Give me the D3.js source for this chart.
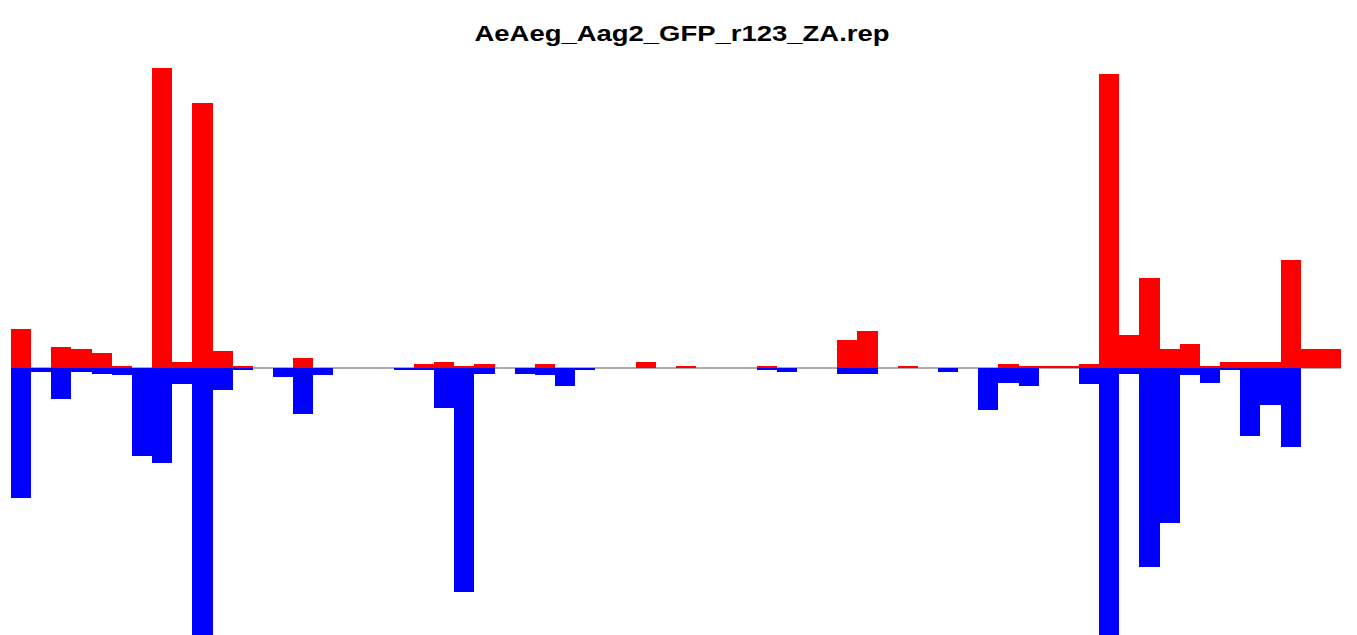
<!DOCTYPE html>
<html>
<head>
<meta charset="utf-8">
<script src="https://cdn.jsdelivr.net/npm/d3@7"></script>
<style>
  html, body { margin: 0; padding: 0; background: #fff; overflow: hidden; }
  svg { display: block; }
</style>
</head>
<body>
<script>
const title = "AeAeg_Aag2_GFP_r123_ZA.rep";
const positions = d3.range(66);
const sense = [39,0,21,19,15,2,0,300,6,265,17,2,0,0,10,0,0,0,0,0,4,6,2,4,0,0,4,0,0,0,0,6,0,2,0,0,0,2,0,0,0,28,37,0,2,0,0,0,0,4,2,2,2,4,294,33,90,19,24,2,6,6,6,108,19,19];
const antisense = [130,4,31,4,6,7,88,95,16,300,22,2,0,9,46,7,0,0,0,2,2,40,224,6,0,6,7,18,2,0,0,0,0,0,0,0,0,2,4,0,0,6,6,0,0,0,4,0,42,15,18,0,0,16,300,6,199,155,7,15,2,68,37,79,0,0];

const W = 1357, H = 635;
const svg = d3.select("body").append("svg").attr("width", W).attr("height", H);

const x = d3.scaleBand().domain(positions).range([11, 1341]).padding(0);
const y = d3.scaleLinear().domain([-300, 300]).range([668, 68]);

svg.append("line")
  .attr("x1", 11).attr("x2", 1341)
  .attr("y1", y(0)).attr("y2", y(0))
  .attr("stroke", "#909090").attr("stroke-width", 1.5);

svg.append("g").attr("shape-rendering", "crispEdges")
  .selectAll("rect").data(positions).join("rect")
  .attr("x", d => x(d)).attr("width", x.bandwidth())
  .attr("y", d => y(sense[d]))
  .attr("height", d => y(0) - y(sense[d]))
  .attr("fill", "#ff0000");

svg.append("g").attr("shape-rendering", "crispEdges")
  .selectAll("rect").data(positions).join("rect")
  .attr("x", d => x(d)).attr("width", x.bandwidth())
  .attr("y", y(0))
  .attr("height", d => y(-antisense[d]) - y(0))
  .attr("fill", "#0000ff");

svg.append("text")
  .attr("x", 682).attr("y", 41)
  .attr("text-anchor", "middle")
  .attr("font-family", "'Liberation Sans', Arial, Helvetica, sans-serif")
  .attr("font-weight", "bold")
  .attr("font-size", 22)
  .attr("textLength", 415)
  .attr("lengthAdjust", "spacingAndGlyphs")
  .attr("fill", "#000")
  .text(title);
</script>
</body>
</html>
